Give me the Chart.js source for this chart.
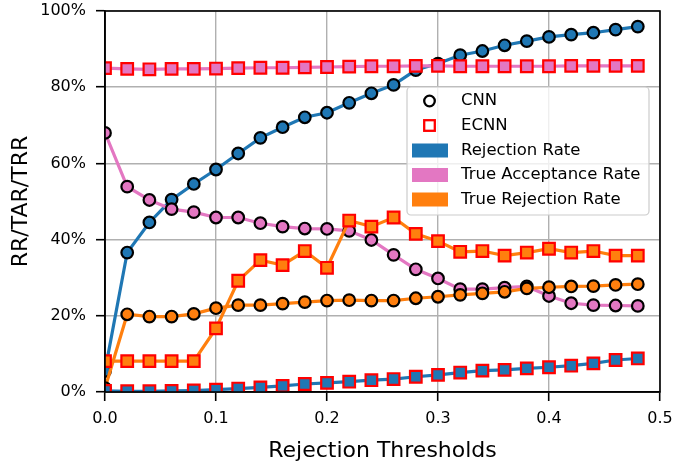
<!DOCTYPE html>
<html>
<head>
<meta charset="utf-8">
<script src="https://cdn.jsdelivr.net/npm/chart.js@4.4.1/dist/chart.umd.min.js"></script>
<style>
  html, body { margin: 0; padding: 0; background: #ffffff; }
</style>
</head>
<body>
<canvas id="chart" width="674" height="466"></canvas>
<script>
// ======================================================
// DATA
// ======================================================

const thresholds = [0, 0.02, 0.04, 0.06, 0.08, 0.1, 0.12, 0.14, 0.16, 0.18, 0.2, 0.22, 0.24,
  0.26, 0.28, 0.3, 0.32, 0.34, 0.36, 0.38, 0.4, 0.42, 0.44, 0.46, 0.48];

// CNN (circles)
const cnnRejection = [5.5, 36.6, 44.5, 50.5, 54.6, 58.4, 62.6, 66.7, 69.5, 72.1, 73.3, 75.9, 78.4,
  80.6, 84.5, 86.2, 88.4, 89.5, 91.0, 92.1, 93.2, 93.8, 94.3, 95.1, 95.9];
const cnnAcceptance = [68.0, 53.9, 50.4, 48.0, 47.2, 45.8, 45.8, 44.3, 43.4, 42.9, 42.8, 42.3, 39.9,
  36.0, 32.2, 29.8, 27.0, 27.0, 27.4, 27.7, 25.2, 23.3, 22.8, 22.7, 22.6];
const cnnTrueRejection = [1.0, 20.4, 19.8, 19.8, 20.5, 22.0, 22.8, 22.8, 23.2, 23.6, 24.0, 24.1, 24.0,
  24.0, 24.6, 25.0, 25.5, 25.9, 26.3, 27.2, 27.5, 27.7, 27.8, 28.1, 28.3];

// ECNN (squares)
const ecnnRejection = [0.3, 0.2, 0.2, 0.3, 0.4, 0.6, 0.9, 1.2, 1.6, 2.1, 2.4, 2.7, 3.1,
  3.4, 4.0, 4.5, 5.1, 5.6, 5.8, 6.2, 6.5, 6.9, 7.5, 8.4, 8.8];
const ecnnAcceptance = [85.0, 84.8, 84.7, 84.8, 84.8, 84.9, 85.0, 85.1, 85.1, 85.2, 85.3, 85.4, 85.5,
  85.5, 85.6, 85.6, 85.5, 85.5, 85.5, 85.5, 85.5, 85.6, 85.6, 85.6, 85.6];
const ecnnTrueRejection = [8.1, 8.1, 8.1, 8.1, 8.1, 16.7, 29.2, 34.6, 33.3, 37.0, 32.6, 45.0, 43.4,
  45.8, 41.5, 39.6, 36.8, 37.0, 35.8, 36.6, 37.6, 36.6, 37.0, 35.8, 35.8];

const yTicks = [0, 20, 40, 60, 80, 100];
const xTicks = [0, 0.1, 0.2, 0.3, 0.4, 0.5];

const modelLabels = ["CNN", "ECNN"];
const metricLabels = ["Rejection Rate", "True Acceptance Rate", "True Rejection Rate"];

// ======================================================
// STYLE
// ======================================================

const BLUE = "#1f77b4";
const PINK = "#e377c2";
const ORANGE = "#ff7f0e";
const FONT = "'DejaVu Sans', sans-serif";

function toPoints(values) {
  return values.map((v, i) => ({ x: thresholds[i], y: v }));
}

function series(label, values, color, model, order) {
  const isCnn = model === "CNN";
  return {
    label: label,
    data: toPoints(values),
    borderColor: color,
    backgroundColor: color,
    borderWidth: 3.2,
    pointStyle: isCnn ? "circle" : "rect",
    pointRadius: isCnn ? 5.8 : 8.2,
    pointBorderWidth: 2.2,
    pointBorderColor: isCnn ? "#000000" : "#ff0000",
    pointBackgroundColor: color,
    tension: 0,
    order: order,
  };
}

// ======================================================
// PLUGINS
// ======================================================

// clip lines and markers to the plot box, then draw the frame on top
const framePlugin = {
  id: "frame",
  beforeDatasetsDraw(chart) {
    const { ctx, chartArea: a } = chart;
    ctx.save();
    ctx.beginPath();
    ctx.rect(a.left, a.top, a.right - a.left, a.bottom - a.top);
    ctx.clip();
  },
  afterDatasetsDraw(chart) {
    const { ctx, chartArea: a } = chart;
    ctx.restore();
    ctx.save();
    ctx.strokeStyle = "#000000";
    ctx.lineWidth = 1.6;
    ctx.strokeRect(a.left, a.top, a.right - a.left, a.bottom - a.top);
    ctx.restore();
  },
};

// legend box inside the plot (markers for models, patches for metrics)
const legendPlugin = {
  id: "boxLegend",
  afterDraw(chart) {
    const ctx = chart.ctx;
    const x0 = 407, y0 = 87, w = 242, h = 128, r = 4;
    ctx.save();
    ctx.beginPath();
    ctx.roundRect(x0, y0, w, h, r);
    ctx.fillStyle = "rgba(255,255,255,0.8)";
    ctx.fill();
    ctx.strokeStyle = "#cccccc";
    ctx.lineWidth = 1.2;
    ctx.stroke();

    ctx.font = "16.5px " + FONT;
    ctx.textBaseline = "middle";
    const textX = 461;
    const markerX = 429.5;
    const rowY = [101, 125.5, 150.5, 175, 199.5];

    ctx.lineWidth = 2.3;
    ctx.strokeStyle = "#000000";
    ctx.beginPath();
    ctx.arc(markerX, rowY[0], 5.3, 0, Math.PI * 2);
    ctx.stroke();
    ctx.strokeStyle = "#ff0000";
    ctx.strokeRect(markerX - 5.3, rowY[1] - 5.3, 10.6, 10.6);
    ctx.fillStyle = "#000000";
    ctx.fillText(modelLabels[0], textX, rowY[0]);
    ctx.fillText(modelLabels[1], textX, rowY[1]);

    const colors = [BLUE, PINK, ORANGE];
    metricLabels.forEach((label, i) => {
      ctx.fillStyle = colors[i];
      ctx.fillRect(412, rowY[i + 2] - 7, 36, 14);
      ctx.fillStyle = "#000000";
      ctx.fillText(label, textX, rowY[i + 2]);
    });
    ctx.restore();
  },
};

// ======================================================
// CHART
// ======================================================

const ctx = document.getElementById("chart").getContext("2d");

const gridStyle = {
  color: "#b0b0b0",
  lineWidth: 1.4,
  tickColor: "#000000",
  tickLength: 9,
  tickWidth: 1.6,
};

new Chart(ctx, {
  type: "line",
  data: {
    datasets: [
      series(metricLabels[0], cnnRejection, BLUE, "CNN", 6),
      series(metricLabels[1], cnnAcceptance, PINK, "CNN", 5),
      series(metricLabels[2], cnnTrueRejection, ORANGE, "CNN", 4),
      series(metricLabels[0], ecnnRejection, BLUE, "ECNN", 3),
      series(metricLabels[1], ecnnAcceptance, PINK, "ECNN", 2),
      series(metricLabels[2], ecnnTrueRejection, ORANGE, "ECNN", 1),
    ],
  },
  options: {
    responsive: false,
    animation: false,
    devicePixelRatio: 1,
    layout: {
      padding: { left: 0, top: 11, right: 14, bottom: 0 },
    },
    plugins: {
      legend: { display: false },
      tooltip: { enabled: false },
    },
    scales: {
      x: {
        type: "linear",
        min: 0,
        max: 0.5,
        afterBuildTicks: (scale) => {
          scale.ticks = xTicks.map((v) => ({ value: v }));
        },
        afterFit: (scale) => {
          scale.height = 74;
          scale.paddingLeft = 0;
          scale.paddingRight = 0;
        },
        ticks: {
          color: "#000000",
          font: { family: FONT, size: 16 },
          padding: 8,
          maxRotation: 0,
          callback: (v) => Number(v).toFixed(1),
        },
        grid: gridStyle,
        border: { display: true, color: "#000000", width: 1.6 },
        title: {
          display: true,
          text: "Rejection Thresholds",
          color: "#000000",
          font: { family: FONT, size: 22 },
          padding: { top: 0, bottom: 2 },
        },
      },
      y: {
        type: "linear",
        min: 0,
        max: 100,
        afterBuildTicks: (scale) => {
          scale.ticks = yTicks.map((v) => ({ value: v }));
        },
        afterFit: (scale) => {
          scale.width = 105;
          scale.paddingTop = 0;
          scale.paddingBottom = 0;
        },
        ticks: {
          color: "#000000",
          font: { family: FONT, size: 16 },
          padding: 10,
          callback: (v) => v + "%",
        },
        grid: gridStyle,
        border: { display: true, color: "#000000", width: 1.6 },
        title: {
          display: true,
          text: "RR/TAR/TRR",
          color: "#000000",
          font: { family: FONT, size: 22 },
          padding: { top: 8, bottom: 0 },
        },
      },
    },
  },
  plugins: [framePlugin, legendPlugin],
});
</script>
</body>
</html>
